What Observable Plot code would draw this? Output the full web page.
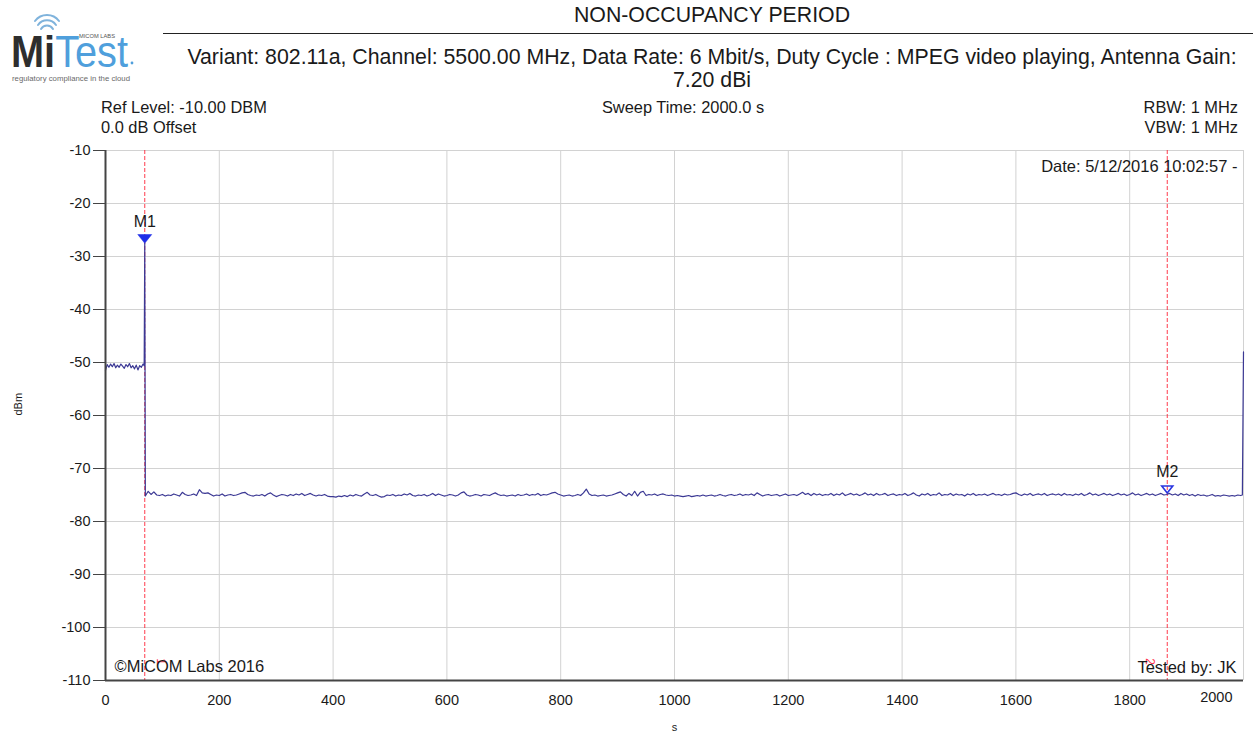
<!DOCTYPE html>
<html>
<head>
<meta charset="utf-8">
<script src="https://cdn.jsdelivr.net/npm/d3@7"></script>
<script src="https://cdn.jsdelivr.net/npm/@observablehq/plot@0.6"></script>
<style>
  html, body { margin: 0; padding: 0; background: #fff; }
  #page { position: relative; width: 1253px; height: 738px; overflow: hidden;
          font-family: "Liberation Sans", Arial, sans-serif; color: #1a1a1a; }
  .abs { position: absolute; white-space: nowrap; }
  #header { height: 95px; }
  #chart svg { display: block; }
</style>
</head>
<body>
<div id="page">
  <div id="header">
    <svg class="abs" style="left:0;top:0" width="165" height="92" viewBox="0 0 165 92">
      <g fill="none" stroke="#7fb3dc" stroke-width="2" stroke-linecap="round">
        <path d="M41 29 A7 7 0 0 1 53 29"/>
        <path d="M38 25 A11 11 0 0 1 56 25"/>
        <path d="M35 21 A15 15 0 0 1 59 21"/>
      </g>
      <text x="79" y="38" font-size="5" fill="#555" textLength="36" lengthAdjust="spacingAndGlyphs">MICOM LABS</text>
      <text x="11" y="67" font-size="44" textLength="117" lengthAdjust="spacingAndGlyphs"><tspan font-weight="bold" fill="#2e2e2e">Mi</tspan><tspan fill="#4f9fdc">Test</tspan></text>
      <circle cx="132" cy="63" r="1.4" fill="#4f9fdc"/>
      <text x="12" y="81" font-size="7.5" fill="#6a6a6a" textLength="118" lengthAdjust="spacingAndGlyphs">regulatory compliance in the cloud</text>
    </svg>
    <div class="abs" style="left:171px;width:1082px;top:4px;text-align:center;font-size:21.3px;line-height:23px;">NON-OCCUPANCY PERIOD</div>
    <div class="abs" style="left:163px;width:1090px;top:33px;height:0;border-top:1px solid #222;"></div>
    <div class="abs" style="left:171px;width:1082px;top:46px;text-align:center;font-size:21.3px;line-height:23px;">Variant: 802.11a, Channel: 5500.00 MHz, Data Rate: 6 Mbit/s, Duty Cycle : MPEG video playing, Antenna Gain:<br>7.20 dBi</div>
  </div>
  <div class="abs" style="left:101px;top:97px;font-size:16.4px;line-height:20px;">Ref Level: -10.00 DBM<br>0.0 dB Offset</div>
  <div class="abs" style="left:583px;width:200px;top:97px;text-align:center;font-size:16.4px;line-height:20px;">Sweep Time: 2000.0 s</div>
  <div class="abs" style="right:15px;top:97px;text-align:right;font-size:16.4px;line-height:20px;">RBW: 1 MHz<br>VBW: 1 MHz</div>
  <div id="chart"></div>
</div>
<script>
// Sweep trace, dBm. Idle level before the burst, sampled every 3 s from 0 s.
const onsetTime = [0, 3, 6, 9, 12, 15, 18, 21, 24, 27, 30, 33, 36, 39, 42, 45, 48, 51, 54, 57, 60, 63, 66];
const onsetLevel = [-51.5, -50.4, -50.9, -50.3, -50.8, -50.2, -51.0, -50.5, -50.9, -50.3, -50.7, -51.1,
                    -50.4, -50.8, -50.2, -51.0, -50.6, -51.2, -50.5, -51.4, -50.6, -50.9, -50.3];

// Radar burst edge
const edgeTime = [68, 69];
const edgeLevel = [-50.6, -27.5];

// Non-occupancy floor, one reading every 5 s from 70 s to 1995 s
const floorStart = 70;
const floorStep = 5;
const floorLevel = [
  -75.2, -74.3, -74.9, -74.4, -75.0, -75.1, -74.9, -75.2, -75.0, -75.1, -74.8, -75.0, -75.2, -74.5, -74.9, -75.1, -75.0, -74.8, -75.1, -74.0,
  -74.6, -74.7, -74.6, -74.9, -75.2, -75.0, -75.1, -74.8, -75.2, -75.0, -74.9, -75.1, -75.0, -74.8, -74.6, -74.5, -74.9, -75.1, -75.2, -75.0,
  -75.1, -74.9, -75.2, -74.8, -74.6, -75.0, -75.3, -75.1, -74.9, -75.0, -75.2, -74.9, -75.1, -74.8, -75.0, -74.7, -75.1, -74.9, -74.7, -75.0,
  -75.2, -75.0, -75.1, -74.9, -75.2, -75.3, -75.3, -75.4, -75.2, -75.3, -75.1, -75.3, -75.0, -75.2, -74.9, -75.1, -75.2, -74.8, -74.5, -75.0,
  -75.1, -74.9, -75.2, -75.4, -75.3, -75.0, -75.1, -74.9, -75.2, -75.0, -75.1, -74.8, -75.0, -74.7, -75.1, -75.2, -75.0, -75.1, -74.9, -75.2,
  -75.0, -74.7, -75.1, -74.8, -75.0, -75.2, -75.1, -74.9, -75.0, -75.2, -75.0, -74.6, -74.4, -75.0, -75.2, -75.1, -74.9, -75.0, -75.2, -74.9,
  -75.0, -75.1, -74.8, -74.6, -74.9, -75.1, -75.0, -75.2, -75.1, -75.0, -75.2, -74.9, -75.1, -75.0, -74.8, -75.1, -74.9, -75.0, -74.7, -75.1,
  -74.9, -75.0, -74.8, -74.6, -74.5, -74.8, -75.0, -75.2, -75.1, -75.0, -75.2, -75.1, -74.9, -75.1, -74.6, -73.9, -74.8, -75.1, -75.0, -75.2,
  -75.1, -75.0, -75.2, -75.1, -75.0, -74.8, -74.6, -74.4, -74.9, -75.2, -74.7, -75.1, -74.3, -75.2, -74.5, -74.3, -75.1, -74.9, -75.0, -74.8,
  -75.1, -74.9, -74.8, -75.0, -75.1, -75.0, -75.2, -75.1, -75.2, -75.3, -75.2, -75.1, -75.3, -75.2, -75.1, -75.2, -75.0, -75.2, -75.1, -75.0,
  -75.2, -75.1, -74.9, -75.1, -75.2, -75.0, -74.9, -75.1, -75.0, -74.8, -75.1, -74.9, -75.0, -74.8, -75.1, -74.6, -74.9, -75.2, -75.0, -74.9,
  -75.1, -75.0, -74.9, -75.2, -75.0, -74.8, -75.1, -75.0, -74.9, -75.1, -74.8, -74.5, -74.9, -74.7, -75.1, -74.7, -75.0, -74.8, -75.1, -74.9,
  -75.0, -74.7, -75.1, -74.8, -75.0, -74.6, -75.1, -74.9, -74.7, -75.0, -74.8, -75.1, -74.9, -74.6, -75.0, -74.8, -75.1, -74.7, -75.0, -74.9,
  -74.7, -75.1, -74.9, -74.8, -75.1, -74.9, -75.0, -74.7, -75.1, -74.9, -74.6, -75.0, -75.2, -74.8, -75.0, -74.7, -75.1, -74.9, -75.0, -74.6,
  -75.1, -74.9, -75.0, -74.7, -75.1, -74.8, -75.0, -74.9, -75.2, -74.8, -75.0, -74.7, -75.1, -74.9, -75.0, -74.8, -75.1, -74.9, -74.7, -75.0,
  -74.9, -75.1, -74.8, -75.0, -74.9, -74.7, -74.6, -74.9, -75.1, -74.8, -75.0, -74.7, -75.1, -74.9, -74.8, -75.0, -74.7, -75.1, -74.9, -74.8,
  -75.0, -74.8, -75.1, -74.7, -75.0, -74.9, -75.1, -74.8, -75.0, -74.7, -75.1, -74.9, -74.6, -75.0, -74.8, -75.1, -74.9, -74.7, -75.0, -74.8,
  -75.1, -74.9, -74.7, -75.0, -74.8, -75.1, -74.9, -74.6, -75.0, -74.8, -75.1, -74.9, -74.7, -75.0, -74.8, -75.1, -74.9, -74.7, -75.0, -74.9,
  -74.7, -75.0, -74.8, -75.1, -74.7, -75.0, -74.8, -75.1, -74.9, -75.2, -74.9, -75.1, -75.0, -75.2, -75.1, -74.9, -75.2, -75.1, -75.2, -75.0,
  -75.1, -75.2, -75.1, -75.2, -75.0, -75.1
];

// End of sweep
const tailTime = [1998, 2000];
const tailLevel = [-75.0, -48.0];

// Markers
const markerName = ["M1", "M2"];
const markerTime = [69, 1866];
const markerLevel = [-27.5, -74.6];

// Delta marker tags along the bottom
const deltaTag = ["1", "2"];
const deltaTime = [90, 1828];

// Axes
const xTicks = [0, 200, 400, 600, 800, 1000, 1200, 1400, 1600, 1800, 2000];
const yTicks = [-10, -20, -30, -40, -50, -60, -70, -80, -90, -100, -110];

const trace = [
  ...onsetTime.map((t, i) => ({t, v: onsetLevel[i]})),
  ...edgeTime.map((t, i) => ({t, v: edgeLevel[i]})),
  ...floorLevel.map((v, i) => ({t: floorStart + i * floorStep, v})),
  ...tailTime.map((t, i) => ({t, v: tailLevel[i]}))
];
const markers = markerName.map((name, i) => ({name, t: markerTime[i], v: markerLevel[i]}));
const deltas = deltaTag.map((tag, i) => ({tag, t: deltaTime[i]}));

// Downward-pointing triangle with its tip on the marked point
const downTriangle = {
  draw(context, size) {
    const r = Math.sqrt(size / Math.PI);
    context.moveTo(0, 0);
    context.lineTo(-r, -r * 1.25);
    context.lineTo(r, -r * 1.25);
    context.closePath();
  }
};

const textColor = "#1a1a1a";
const axisColor = "#444";
const plain = d => String(d);

const chart = Plot.plot({
  width: 1253,
  height: 643,
  marginTop: 55,
  marginBottom: 58,
  marginLeft: 105,
  marginRight: 10,
  x: {domain: [0, 2000]},
  y: {domain: [-110, -10]},
  style: {fontFamily: "'Liberation Sans', Arial, sans-serif", fontSize: "14px", color: textColor, background: "#fff"},
  marks: [
    Plot.gridX(xTicks, {stroke: "#d2d2d2", strokeOpacity: 1}),
    Plot.gridY(yTicks, {stroke: "#d2d2d2", strokeOpacity: 1}),
    Plot.ruleX(markers, {x: "t", stroke: "#ff1a2e", strokeWidth: 1, strokeDasharray: "4,2", strokeOpacity: 0.85}),
    Plot.line(trace, {x: "t", y: "v", stroke: "#3b3894", strokeWidth: 1.2}),
    Plot.ruleX([0], {stroke: axisColor, strokeWidth: 2}),
    Plot.ruleY([-110], {stroke: axisColor, strokeWidth: 2}),
    Plot.axisY(yTicks, {tickSize: 12, tickPadding: 3, tickFormat: plain, stroke: axisColor, fill: textColor, fontSize: 14.5, label: null}),
    Plot.axisX(xTicks.filter(d => d < 2000), {tickSize: 0, tickPadding: 14, tickFormat: plain, fill: textColor, fontSize: 14.5, label: null}),
    Plot.text(xTicks.filter(d => d === 2000), {x: d => d, text: plain, frameAnchor: "bottom", dy: 21, dx: -11, textAnchor: "end", fill: textColor, fontSize: 14.5}),
    Plot.dot(markers.filter(d => d.name === "M1"), {x: "t", y: "v", symbol: downTriangle, r: 7, fill: "#1f2ee8", stroke: "#1f2ee8", strokeWidth: 0.5}),
    Plot.dot(markers.filter(d => d.name === "M2"), {x: "t", y: "v", symbol: downTriangle, r: 5.5, fill: "none", stroke: "#2a36e0", strokeWidth: 1.6}),
    Plot.text(markers, {x: "t", y: "v", text: "name", dy: -21, fill: textColor, fontSize: 16}),
    Plot.text(deltas, {x: "t", text: "tag", frameAnchor: "bottom", dy: -19, rotate: 90, fill: "#ff3350", fontSize: 12}),
    Plot.text(["Date: 5/12/2016 10:02:57 -"], {frameAnchor: "top-right", dx: -6, dy: 10, textAnchor: "end", fill: textColor, fontSize: 16.5}),
    Plot.text(["©MiCOM Labs 2016"], {frameAnchor: "bottom-left", dx: 9, dy: -9, textAnchor: "start", fill: textColor, fontSize: 16.5}),
    Plot.text(["Tested by: JK"], {frameAnchor: "bottom-right", dx: -7, dy: -8, textAnchor: "end", fill: textColor, fontSize: 16.5}),
    Plot.text(["dBm"], {frameAnchor: "left", dx: -87, rotate: -90, fill: textColor, fontSize: 11}),
    Plot.text(["s"], {frameAnchor: "bottom", dy: 50, fill: textColor, fontSize: 11})
  ]
});
document.getElementById("chart").appendChild(chart);
</script>
</body>
</html>
